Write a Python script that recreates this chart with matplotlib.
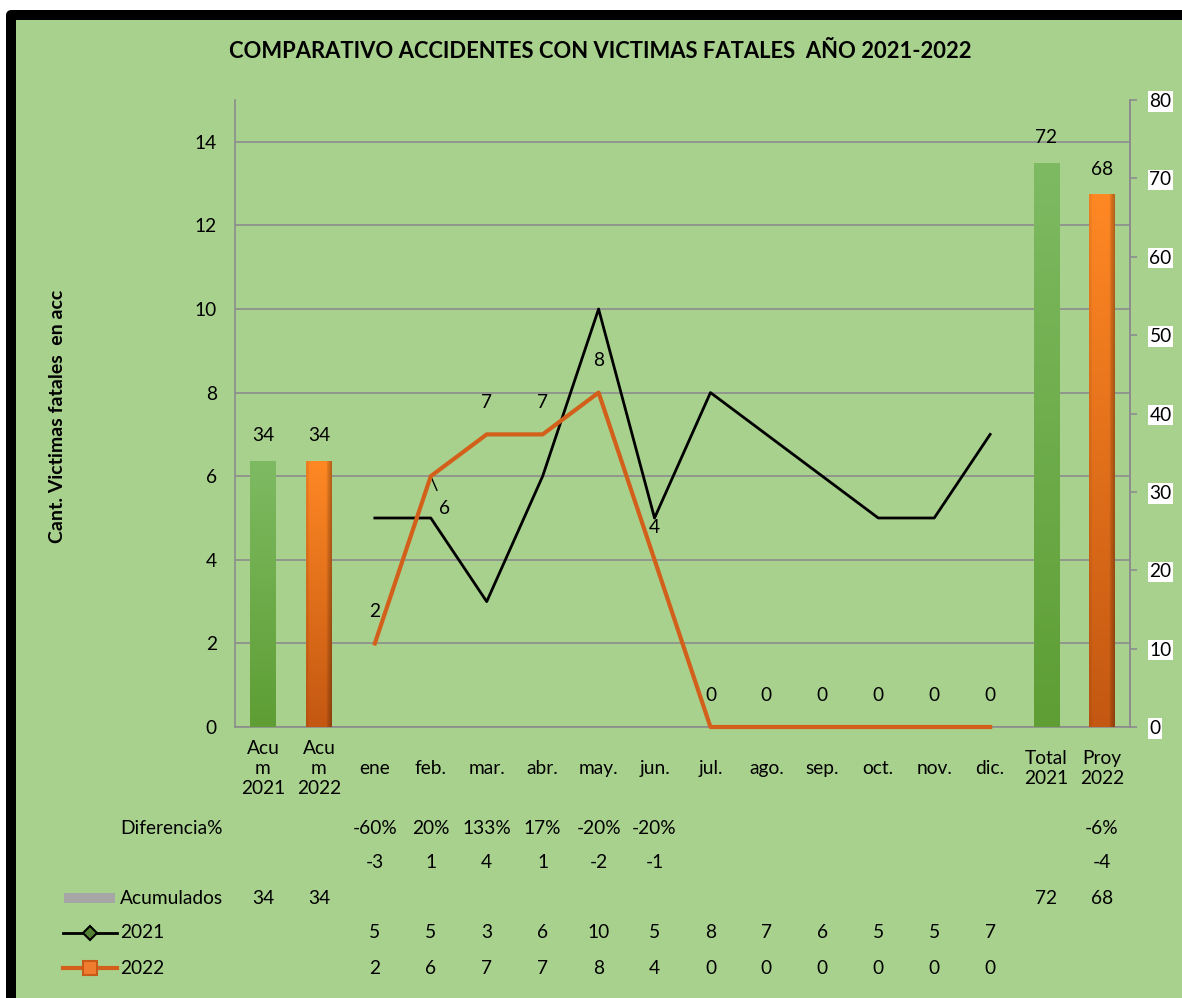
import matplotlib
matplotlib.use("Agg")
import matplotlib.pyplot as plt
import matplotlib.transforms as mtransforms
from matplotlib.patches import Rectangle
from matplotlib.lines import Line2D
import numpy as np

plt.rcParams['font.family'] = ['Lato', 'DejaVu Sans']

# data
categories = ["Acu\nm\n2021", "Acu\nm\n2022", "ene", "feb.", "mar.", "abr.", "may.",
              "jun.", "jul.", "ago.", "sep.", "oct.", "nov.", "dic.", "Total\n2021", "Proy\n2022"]
month_idx = list(range(2, 14))
vals_2021 = [5, 5, 3, 6, 10, 5, 8, 7, 6, 5, 5, 7]
vals_2022 = [2, 6, 7, 7, 8, 4, 0, 0, 0, 0, 0, 0]
acum_idx = [0, 1, 14, 15]
acum_vals = [34, 34, 72, 68]
diff_idx = [2, 3, 4, 5, 6, 7, 15]
diff_pct = ["-60%", "20%", "133%", "17%", "-20%", "-20%", "-6%"]
diff_abs = [-3, 1, 4, 1, -2, -1, -4]

W, H = 1182, 998
BG = "#A9D18E"
GRID = "#8C8C8C"
ORANGE = "#D2601A"
FS = 13.8

fig = plt.figure(figsize=(W / 100, H / 100), dpi=100)
fig.patch.set_facecolor("white")

# green panel with the thick black frame
fig.add_artist(Rectangle((11 / W, -0.01), 1.2, 1 - 15 / H + 0.01, transform=fig.transFigure,
                         facecolor=BG, edgecolor="black", linewidth=7.2, joinstyle="round", zorder=0))

def fy(py):
    return 1 - py / H

ax = fig.add_axes([235 / W, fy(727), (1130 - 235) / W, (727 - 100) / H])
ax.patch.set_visible(False)
ax2 = ax.twinx()

# lines on the primary axis
ax.plot(month_idx, vals_2021, color="black", linewidth=2, zorder=3, clip_on=False)
ax.plot(month_idx, vals_2022, color=ORANGE, linewidth=3, zorder=4, clip_on=False)
ax.set_xlim(-0.5, len(categories) - 0.5)
ax.set_ylim(0, 15)
ax.set_yticks(range(0, 15, 2))
ax.yaxis.grid(True, color=GRID, linewidth=1.2)
ax.set_axisbelow(True)

for x, v in zip(month_idx, vals_2022):
    if x == 3:
        ax.annotate(str(v), (x, v), xytext=(10, -23), textcoords="offset points",
                    ha="center", va="center", fontsize=FS,
                    arrowprops=dict(arrowstyle="-", color="black", lw=1, shrinkA=5, shrinkB=1))
    else:
        ax.annotate(str(v), (x, v), xytext=(0, 23), textcoords="offset points",
                    ha="center", va="center", fontsize=FS)

# bars on the secondary axis
bars = ax2.bar(acum_idx, acum_vals, width=0.45, color="none", zorder=2)
green_top, green_bot = np.array([126, 186, 98]) / 255, np.array([94, 158, 52]) / 255
orange_top, orange_bot = np.array([255, 136, 36]) / 255, np.array([196, 88, 18]) / 255
for i, b in enumerate(bars):
    top, bot = (green_top, green_bot) if i % 2 == 0 else (orange_top, orange_bot)
    t = np.linspace(0, 1, 100)[:, None, None]
    grad = top * (1 - t) + bot * t
    grad = np.repeat(grad, 20, axis=1)
    if i % 2 == 1:
        edge = np.ones(20)
        edge[-4:] = np.linspace(0.9, 0.72, 4)
        edge[:2] = 0.93
        grad = grad * edge[None, :, None]
    im = ax2.imshow(grad, extent=[b.get_x(), b.get_x() + b.get_width(), 0, b.get_height()],
                    aspect="auto", origin="upper", zorder=2)
    im.set_clip_path(b)
    ax2.annotate(str(acum_vals[i]), (b.get_x() + b.get_width() / 2, b.get_height()),
                 xytext=(0, 18), textcoords="offset points", ha="center", va="center", fontsize=FS)
ax2.set_xlim(-0.5, len(categories) - 0.5)
ax2.set_ylim(0, 80)
ax2.set_yticks(range(0, 81, 10))

for a in (ax, ax2):
    for s in a.spines.values():
        s.set_color(GRID)
        s.set_linewidth(1.2)
    a.spines["top"].set_visible(False)
ax2.spines["bottom"].set_visible(False)
ax2.spines["left"].set_visible(False)

ax.tick_params(axis="y", length=0, pad=13, labelsize=FS)
ax2.tick_params(axis="y", length=5, width=1.2, color=GRID, pad=9, labelsize=FS)
for lab in ax2.get_yticklabels():
    lab.set_bbox(dict(facecolor="white", edgecolor="none", pad=1.2))

ax.set_xticks(range(len(categories)), categories)
ax.tick_params(axis="x", length=0, pad=30, labelsize=FS)
for lab in ax.get_xticklabels():
    lab.set_va("center")
    lab.set_linespacing(1.2)

# title and y label
fig.text(600 / W, fy(52), "COMPARATIVO ACCIDENTES CON VICTIMAS FATALES  AÑO 2021-2022",
         ha="center", va="center", fontsize=15.8, fontweight="bold")
fig.text(58 / W, fy(416), "Cant. Victimas fatales  en acc", rotation=90,
         ha="center", va="center", fontsize=14, fontweight="bold")

# data table under the chart
tr = mtransforms.blended_transform_factory(ax.transData, fig.transFigure)
rows_y = [828, 862, 898, 933, 968]
kw = dict(ha="center", va="center", fontsize=FS, transform=tr)
for x, p, d in zip(diff_idx, diff_pct, diff_abs):
    ax.text(x, fy(rows_y[0]), p, **kw)
    ax.text(x, fy(rows_y[1]), str(d), **kw)
for x, v in zip(acum_idx, acum_vals):
    ax.text(x, fy(rows_y[2]), str(v), **kw)
for x, v in zip(month_idx, vals_2021):
    ax.text(x, fy(rows_y[3]), str(v), **kw)
for x, v in zip(month_idx, vals_2022):
    ax.text(x, fy(rows_y[4]), str(v), **kw)

row_labels = ["Diferencia%", "", "Acumulados", "2021", "2022"]
for lab, y in zip(row_labels, rows_y):
    fig.text(120 / W, fy(y), lab, ha="left", va="center", fontsize=FS)

fig.add_artist(Rectangle((64 / W, fy(903)), 51 / W, 10 / H, transform=fig.transFigure,
                         facecolor="#A6A6A6", edgecolor="none"))
fig.add_artist(Line2D([63 / W, 90 / W, 117 / W], [fy(933)] * 3, transform=fig.transFigure,
                      color="black", linewidth=2, marker="D", markevery=[1], markersize=7,
                      markerfacecolor="#548235", markeredgecolor="black", markeredgewidth=1.5))
fig.add_artist(Line2D([63 / W, 90 / W, 117 / W], [fy(968)] * 3, transform=fig.transFigure,
                      color=ORANGE, linewidth=3, marker="s", markevery=[1], markersize=10,
                      markerfacecolor="#F07C30", markeredgecolor="#C85A15", markeredgewidth=1.5))

fig.savefig("out.png", dpi=100, facecolor=fig.get_facecolor())
